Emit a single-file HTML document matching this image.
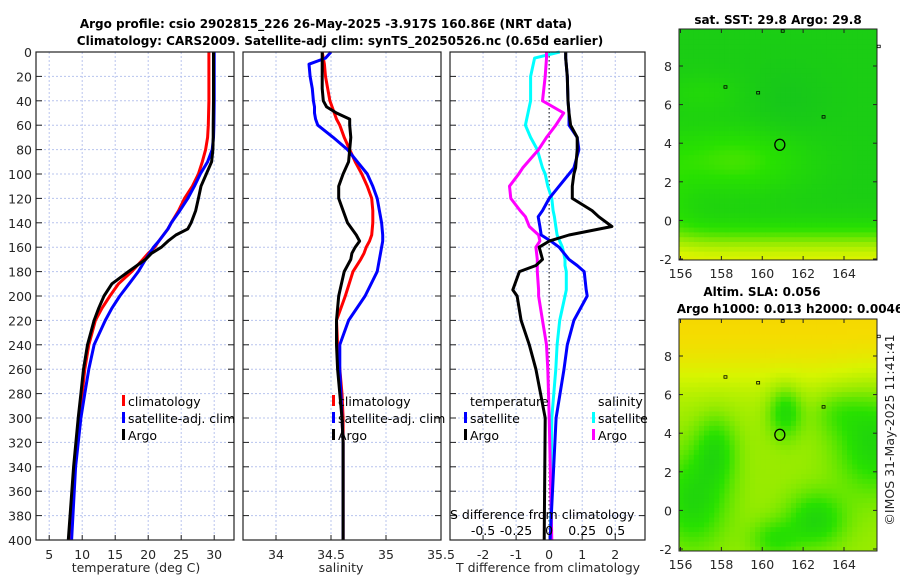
<!DOCTYPE html>
<html><head><meta charset="utf-8">
<style>
html,body{margin:0;padding:0;background:#fff;}
svg{display:block;font-family:"DejaVu Sans","Liberation Sans",sans-serif;}
.tk{font-size:12.5px;fill:#262626;}
.ttl{font-size:12px;font-weight:bold;fill:#000;}
.lg{font-size:12.5px;fill:#000;}
</style></head>
<body>
<svg id="fig" width="900" height="580" viewBox="0 0 900 580">
<text class="ttl" x="326" y="28" text-anchor="middle">Argo profile: csio 2902815_226 26-May-2025 -3.917S 160.86E (NRT data)</text>
<text class="ttl" x="340" y="45" text-anchor="middle">Climatology: CARS2009. Satellite-adj clim: synTS_20250526.nc (0.65d earlier)</text>
<g id="p1"></g>
<g id="p2"></g>
<g id="p3"></g>
<g id="m1"></g>
<g id="m2"></g>
<text class="ttl" x="778" y="24" text-anchor="middle">sat. SST: 29.8 Argo: 29.8</text>
<text class="ttl" x="762" y="296" text-anchor="middle">Altim. SLA: 0.056</text>
<text class="ttl" x="790" y="313" text-anchor="middle">Argo h1000: 0.013 h2000: 0.0046</text>
<text class="tk" transform="translate(894,430) rotate(-90)" text-anchor="middle">©IMOS 31-May-2025 11:41:41</text>
</svg>
<script>
// ---- data ----
const tDepth = [0,20,40,60,70,80,90,100,110,120,130,140,145,150,155,160,165,170,180,190,200,210,220,240,260,280,300,340,400];
const tClim  = [29.2,29.2,29.2,29.1,29.0,28.7,28.2,27.6,26.7,25.5,24.6,23.5,23.0,22.3,21.6,21.0,20.0,19.2,17.5,15.5,14.2,13.0,12.0,11.0,10.4,10.0,9.5,8.8,8.2];
const tSat   = [30.0,30.0,30.0,29.95,29.9,29.7,29.0,27.9,27.0,26.0,24.8,23.5,23.0,22.3,21.6,20.8,20.2,19.6,18.5,17.1,15.7,14.5,13.5,11.8,11.0,10.4,9.8,9.0,8.4];
const tArgo  = [29.9,29.9,29.9,29.85,29.85,29.8,29.6,28.8,28.0,27.6,27.2,26.5,26.0,24.2,23.0,22.0,20.5,19.6,17.0,14.5,13.3,12.5,11.8,10.8,10.2,9.8,9.4,8.7,7.9];

const sDepth = [0,5,10,20,30,40,45,50,55,60,70,80,90,100,110,120,130,140,150,155,160,165,170,180,200,220,240,260,280,300,320,400];
const sClim  = [34.42,34.43,34.44,34.45,34.47,34.49,34.51,34.53,34.55,34.58,34.62,34.67,34.72,34.78,34.83,34.87,34.88,34.88,34.87,34.85,34.82,34.80,34.77,34.70,34.63,34.55,34.56,34.58,34.60,34.61,34.61,34.61];
const sSat   = [34.50,34.45,34.30,34.31,34.33,34.34,34.35,34.35,34.36,34.38,34.52,34.65,34.74,34.83,34.88,34.92,34.94,34.96,34.97,34.97,34.96,34.95,34.94,34.92,34.81,34.66,34.58,34.58,34.59,34.60,34.61,34.61];
const sArgo  = [34.42,34.42,34.42,34.42,34.42,34.43,34.46,34.55,34.67,34.67,34.68,34.67,34.66,34.61,34.57,34.57,34.61,34.65,34.73,34.76,34.72,34.69,34.68,34.62,34.57,34.55,34.55,34.56,34.58,34.60,34.61,34.61];

const dDepth = [0,5,20,40,50,60,70,80,95,100,110,120,130,135,143,150,155,160,170,175,180,195,200,220,240,260,300,400];
const dTsat  = [0.5,0.5,0.55,0.57,0.6,0.6,0.85,0.9,0.75,0.6,0.3,0.0,-0.2,-0.33,-0.28,-0.24,0.05,0.3,0.6,0.85,1.06,1.12,1.15,0.75,0.55,0.45,0.21,0.03];
const dTargo = [0.5,0.5,0.55,0.57,0.6,0.65,0.85,0.85,0.8,0.75,0.7,0.7,1.3,1.5,1.9,0.6,0.0,-0.3,-0.2,-0.4,-0.9,-1.1,-0.97,-0.85,-0.6,-0.4,-0.12,-0.15];
const dSsat  = [0.08,-0.11,-0.14,-0.14,-0.16,-0.18,-0.14,-0.09,-0.05,-0.03,-0.01,0.02,0.03,0.04,0.05,0.06,0.08,0.1,0.12,0.12,0.13,0.13,0.12,0.08,0.06,0.05,0.02,0.01];
const dSargo = [-0.02,-0.02,-0.03,-0.05,0.11,0.05,-0.02,-0.08,-0.2,-0.23,-0.3,-0.29,-0.22,-0.18,-0.15,-0.08,-0.07,-0.1,-0.09,-0.09,-0.09,-0.08,-0.08,-0.05,-0.02,-0.01,0.0,0.02];

const depthTicks = [0,20,40,60,80,100,120,140,160,180,200,220,240,260,280,300,320,340,360,380,400];
const tTicks = [5,10,15,20,25,30];
const sTicks = [34,34.5,35,35.5];
const sTickLabels = ['34','34.5','35','35.5'];
const dTicks = [-2,-1,0,1,2];
const dsTicks = [-0.5,-0.25,0,0.25,0.5];
const dsTickLabels = ['-0.5','-0.25','0','0.25','0.5'];
const lonTicks = [156,158,160,162,164];
const latTicks = [-2,0,2,4,6,8];
const argoLon = 160.86, argoLat = 3.92;

// ---- helpers ----
const NS = 'http://www.w3.org/2000/svg';
function mk(tag, attrs, parent){const e=document.createElementNS(NS,tag);for(const k in attrs)e.setAttribute(k,attrs[k]);parent.appendChild(e);return e;}
const Y0=52, Y1=540;
const yD = d => Y0 + d*(Y1-Y0)/400;
function lin(d0,d1,r0,r1){return v=>r0+(v-d0)*(r1-r0)/(d1-d0);}

function panel(g, x0, x1, xs, ticks, labels, showY){
  const frame = mk('rect',{x:x0,y:Y0,width:x1-x0,height:Y1-Y0,fill:'#fff',stroke:'none'},g);
  
  
  ticks.forEach((t,i)=>{
    const x=xs(t);
    if(x>x0+1 && x<x1-1){
      const gl=mk('line',{x1:x,x2:x,y1:Y0,y2:Y1,stroke:'#b8c4ee','stroke-width':1,'stroke-dasharray':'2,2'},g);
      
      
    }
    mk('line',{x1:x,x2:x,y1:Y1,y2:Y1-5,stroke:'#222'},g);
    const tl=mk('text',{x:x,y:Y1+19,'text-anchor':'middle',class:'tk'},g);
    tl.textContent=labels[i];
    
    
  });
  depthTicks.forEach(d=>{
    const y=yD(d);
    if(d>0&&d<400){
      const gl=mk('line',{x1:x0,x2:x1,y1:y,y2:y,stroke:'#b8c4ee','stroke-width':1,'stroke-dasharray':'2,2'},g);
      
      
    }
    mk('line',{x1:x0,x2:x0+6,y1:y,y2:y,stroke:'#222'},g);
    mk('line',{x1:x1,x2:x1-6,y1:y,y2:y,stroke:'#222'},g);
    if(showY){
      const tl=mk('text',{x:x0-4,y:y+5,'text-anchor':'end',class:'tk'},g);
      tl.textContent=String(d);
      
      
    }
  });
}
function border(g,x0,x1){mk('rect',{x:x0,y:Y0,width:x1-x0,height:Y1-Y0,fill:'none',stroke:'#222','stroke-width':1.2},g);}
function line(g, xs, vals, depths, color, name){
  const pts = vals.map((v,i)=>xs(v).toFixed(1)+','+yD(depths[i]).toFixed(1)).join(' ');
  const p=mk('polyline',{points:pts,fill:'none',stroke:color,'stroke-width':3,'stroke-linejoin':'round'},g);
  
  
}
function legendEntry(g,x,y,color,label,name){
  mk('rect',{x:x,y:y-11,width:3,height:11,fill:color},g);
  const t=mk('text',{x:x+6,y:y,class:'lg'},g);
  t.textContent=label;
  
  
}

// ---- panel 1: temperature ----
const p1=document.getElementById('p1');
const xT=lin(3,33,36,234);
panel(p1,36,234,xT,tTicks,tTicks.map(String),true);
line(p1,xT,tClim,tDepth,'#ff0000','temp-climatology-line');
line(p1,xT,tSat,tDepth,'#0000ff','temp-satellite-line');
line(p1,xT,tArgo,tDepth,'#000000','temp-argo-line');
border(p1,36,234);
legendEntry(p1,122,406,'#ff0000','climatology','legend-climatology');
legendEntry(p1,122,423,'#0000ff','satellite-adj. clim','legend-satellite');
legendEntry(p1,122,440,'#000000','Argo','legend-argo');
{const t=mk('text',{x:136,y:572,'text-anchor':'middle',class:'tk'},p1);t.textContent='temperature (deg C)';

}

// ---- panel 2: salinity ----
const p2=document.getElementById('p2');
const xS=lin(33.7,35.5,243,441);
panel(p2,243,441,xS,sTicks,sTickLabels,false);
line(p2,xS,sClim,sDepth,'#ff0000','sal-climatology-line');
line(p2,xS,sSat,sDepth,'#0000ff','sal-satellite-line');
line(p2,xS,sArgo,sDepth,'#000000','sal-argo-line');
border(p2,243,441);
legendEntry(p2,332,406,'#ff0000','climatology','legend-climatology');
legendEntry(p2,332,423,'#0000ff','satellite-adj. clim','legend-satellite');
legendEntry(p2,332,440,'#000000','Argo','legend-argo');
{const t=mk('text',{x:341,y:572,'text-anchor':'middle',class:'tk'},p2);t.textContent='salinity';

}

// ---- panel 3: differences ----
const p3=document.getElementById('p3');
const xD=lin(-3,2.9,450,645);
const xDS=v=>xD(v*4);
panel(p3,450,645,xD,dTicks,dTicks.map(String),false);
mk('line',{x1:xD(0),x2:xD(0),y1:Y0,y2:Y1,stroke:'#333','stroke-width':1.2,'stroke-dasharray':'1.5,2.5'},p3);
line(p3,xDS,dSsat,dDepth,'#00ffff','sdiff-satellite-line');
line(p3,xDS,dSargo,dDepth,'#ff00ff','sdiff-argo-line');
line(p3,xD,dTsat,dDepth,'#0000ff','tdiff-satellite-line');
line(p3,xD,dTargo,dDepth,'#000000','tdiff-argo-line');
border(p3,450,645);
{const t=mk('text',{x:470,y:406,class:'lg'},p3);t.textContent='temperature';


const t2=mk('text',{x:598,y:406,class:'lg'},p3);t2.textContent='salinity';

}
legendEntry(p3,464,423,'#0000ff','satellite','legend-t-satellite');
legendEntry(p3,464,440,'#000000','Argo','legend-t-argo');
legendEntry(p3,592,423,'#00ffff','satellite','legend-s-satellite');
legendEntry(p3,592,440,'#ff00ff','Argo','legend-s-argo');
{const t=mk('text',{x:450,y:519,class:'lg'},p3);t.textContent='S difference from climatology';

}
dsTicks.forEach((v,i)=>{
  const t=mk('text',{x:xDS(v),y:535,'text-anchor':'middle',class:'lg'},p3);
  t.textContent=dsTickLabels[i];
  
  
});
{const t=mk('text',{x:548,y:572,'text-anchor':'middle',class:'tk'},p3);t.textContent='T difference from climatology';

}

// ---- maps ----
function cmap(f){
  const stops=[[0,[20,195,30]],[0.3,[40,225,0]],[0.55,[150,235,0]],[0.75,[215,245,0]],[0.9,[245,220,0]],[1,[245,195,0]]];
  f=Math.max(0,Math.min(1,f));
  for(let i=1;i<stops.length;i++){if(f<=stops[i][0]){const a=stops[i-1],b=stops[i];const t=(f-a[0])/(b[0]-a[0]);
    return 'rgb('+a[1].map((c,j)=>Math.round(c+(b[1][j]-c)*t)).join(',')+')';}}
  return 'rgb(245,195,0)';
}
const blob=(lon,lat,cx,cy,sx,sy)=>Math.exp(-(((lon-cx)/sx)**2+((lat-cy)/sy)**2));
function f1(lon,lat){
  return 0.1+0.68*Math.exp(-(((lat+2.4)/1.7)**2))+0.26*blob(lon,lat,158.5,3,3.5,1.7)+0.14*blob(lon,lat,155,1,1.5,3)+0.1*blob(lon,lat,157,6.5,2,1)-0.06*blob(lon,lat,161,6,2,2);
}
function f2(lon,lat){
  const top=1/(1+Math.exp(-(lat-6.8)*1.1));
  return 0.56+0.37*top-0.36*blob(lon,lat,161,5,0.8,1.3)-0.38*blob(lon,lat,165.3,3.5,1.8,2.6)-0.36*blob(lon,lat,156.5,0.4,1.6,2.4)-0.36*blob(lon,lat,162.5,-0.6,1.4,1.4)-0.3*blob(lon,lat,157.6,3,1,1.8)-0.25*blob(lon,lat,160.5,-1.6,1.2,1)-0.15*blob(lon,lat,163.5,5,1.2,1.2);
}
function drawMap(g,x0,x1,yTop,yBot,latAt,f,name){
  const xL=lin(156,164,680.5,844);
  const yL=v=>latAt(v);
  const lonMin=155.9, lonMax=lonMin+(x1-x0)/20.44, latMin=-2.1, latMax=9.9;
  const step=0.25;
  for(let lon=lonMin;lon<lonMax;lon+=step){
    for(let lat=latMin;lat<latMax;lat+=step){
      const x=Math.max(x0,xL(lon)), y=Math.max(yTop,yL(lat+step));
      const w=Math.min(x1,xL(lon+step))-x, h=Math.min(yBot,yL(lat))-y;
      if(w>0&&h>0) mk('rect',{x:x,y:y,width:w+0.4,height:h+0.4,fill:cmap(f(lon,lat))},g);
    }
  }
  mk('rect',{x:x0,y:yTop,width:x1-x0,height:yBot-yTop,fill:'none',stroke:'#222','stroke-width':1},g);
  lonTicks.forEach(v=>{const x=xL(v);mk('line',{x1:x,x2:x,y1:yBot,y2:yBot-4,stroke:'#222'},g);mk('line',{x1:x,x2:x,y1:yTop,y2:yTop+4,stroke:'#222'},g);
    const t=mk('text',{x:x,y:yBot+18,'text-anchor':'middle',class:'tk'},g);t.textContent=String(v);
    
    });
  latTicks.forEach(v=>{const y=yL(v);mk('line',{x1:x0,x2:x0+4,y1:y,y2:y,stroke:'#222'},g);mk('line',{x1:x1,x2:x1-4,y1:y,y2:y,stroke:'#222'},g);
    const t=mk('text',{x:x0-7,y:y+5,'text-anchor':'end',class:'tk'},g);t.textContent=String(v);
    
    });
  const c=mk('ellipse',{cx:xL(argoLon),cy:yL(argoLat),rx:5,ry:5.5,fill:'none',stroke:'#000','stroke-width':1.3},g);
  
  
  [[158.2,6.9],[163,5.35],[159.8,6.6],[161,9.8],[165.7,9]].forEach(p=>mk('rect',{x:xL(p[0])-1.5,y:yL(p[1])-1.5,width:3,height:2.5,fill:'none',stroke:'#000','stroke-width':0.8},g));
}
drawMap(document.getElementById('m1'),679,877,29,260,lin(-2,8,259,66),f1,'sst-map');
drawMap(document.getElementById('m2'),679,877,319,551,lin(-2,8,549,356),f2,'sla-map');
</script>
</body></html>
